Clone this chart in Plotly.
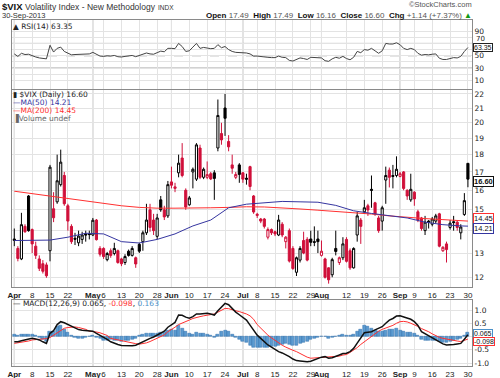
import math
import pandas as pd
import plotly.graph_objects as go

# ---------------- data ----------------
holidays = ["2013-05-27", "2013-07-04", "2013-09-02"]
trading_days = [d.strftime("%Y-%m-%d") for d in pd.bdate_range("2013-04-01", "2013-09-30")
                if d.strftime("%Y-%m-%d") not in holidays]

opens = [13.55, 13.2, 12.75, 14.2, 15.7, 14.05, 13.3, 12.75, 12.55, 12.5,
         13.1, 15.05, 15.4, 16.3, 16.8, 15.2, 14.2, 13.65, 13.45, 13.6,
         13.85, 13.85, 13.8, 14.5, 13.2, 13.2, 12.72, 13.1, 12.98, 13.1,
         12.75, 12.6, 13.08, 12.9, 12.8, 13.38, 13.5, 13.9, 15.0, 14.5,
         13.74, 15.5, 15.0, 14.7, 16.45, 16.1, 16.95, 17.8, 16.0, 15.25,
         17.0, 16.6, 18.4, 16.7, 16.7, 16.9, 16.95, 18.4, 19.3, 21.0,
         18.8, 17.4, 16.7, 17.4, 16.95, 16.65, 17.3, 15.7, 14.72, 14.55,
         14.55, 13.7, 14.05, 13.95, 13.8, 14.3, 13.5, 14.0, 13.2, 12.2,
         12.7, 13.55, 13.6, 13.62, 13.5, 13.62, 12.9, 12.75, 12.38, 12.1,
         13.2, 12.6, 12.8, 13.6, 13.1, 12.38, 13.8, 14.5, 14.9, 15.2,
         16.05, 15.35, 14.6, 14.45, 16.55, 17.1, 16.8, 16.8, 16.75, 17.0,
         16.0, 15.5, 15.9, 14.9, 14.6, 14.0, 14.45, 14.3, 14.45, 14.8,
         13.1, 13.4, 14.15, 14.42, 14.4, 13.9, 14.77, 17.49]
highs = [14.1, 13.3, 14.85, 14.3, 15.75, 14.1, 13.5, 12.9, 12.7, 12.6,
         17.4, 15.9, 18.0, 18.3, 17.0, 15.3, 14.3, 13.9, 14.0, 13.95,
         14.0, 14.0, 14.6, 14.55, 13.3, 13.25, 13.05, 13.2, 13.45, 13.15,
         12.8, 12.95, 13.15, 13.3, 12.85, 13.45, 14.0, 15.3, 15.3, 14.8,
         14.8, 15.7, 15.2, 16.5, 17.3, 16.4, 18.0, 18.7, 16.1, 15.7,
         17.25, 18.7, 18.6, 17.25, 17.6, 17.0, 17.1, 21.6, 20.0, 22.0,
         19.2, 18.0, 17.0, 17.5, 17.0, 16.9, 17.35, 15.75, 14.85, 14.6,
         14.6, 14.15, 14.1, 14.0, 14.75, 14.4, 13.75, 14.1, 13.3, 12.85,
         13.3, 13.95, 13.7, 14.0, 14.2, 14.0, 13.55, 12.8, 12.4, 12.8,
         14.0, 12.85, 13.7, 13.7, 13.2, 13.25, 14.9, 14.6, 15.5, 15.3,
         16.8, 15.4, 14.7, 15.2, 17.3, 17.25, 17.4, 17.9, 17.0, 17.05,
         16.05, 16.9, 15.95, 15.0, 14.65, 14.7, 14.5, 14.65, 14.8, 14.85,
         13.3, 13.5, 14.5, 14.7, 14.45, 14.3, 15.85, 17.49]
lows = [13.3, 12.65, 12.7, 13.9, 13.95, 13.0, 12.75, 12.25, 12.15, 11.98,
        12.65, 14.4, 15.3, 16.2, 15.2, 14.0, 13.4, 13.35, 13.3, 13.4,
        13.5, 13.6, 13.75, 13.55, 12.85, 12.75, 12.65, 12.8, 12.9, 12.55,
        12.45, 12.5, 12.85, 12.85, 12.38, 13.0, 13.1, 13.8, 13.95, 13.8,
        13.6, 14.9, 14.5, 14.6, 16.1, 15.9, 16.7, 16.7, 15.0, 15.2,
        16.1, 16.5, 16.6, 16.6, 16.6, 16.55, 15.5, 18.2, 18.6, 19.15,
        18.2, 16.9, 16.6, 16.4, 16.4, 16.3, 16.0, 14.8, 14.6, 14.35,
        14.1, 13.6, 13.8, 13.75, 13.75, 13.7, 13.2, 12.6, 12.3, 12.05,
        12.6, 12.95, 12.65, 13.3, 13.3, 13.0, 12.85, 11.95, 11.75, 12.0,
        12.9, 12.5, 12.7, 12.6, 12.3, 12.35, 13.5, 13.4, 14.8, 14.7,
        15.1, 14.7, 13.9, 14.0, 15.3, 16.15, 16.1, 16.7, 16.7, 16.0,
        15.5, 15.4, 15.2, 14.4, 14.0, 13.8, 14.1, 14.2, 14.35, 13.25,
        13.05, 12.6, 14.05, 14.0, 14.0, 13.6, 14.7, 16.16]
closes = [13.62, 12.77, 14.28, 13.95, 14.0, 13.4, 12.9, 12.36, 12.24, 12.06,
          17.27, 14.61, 16.51, 17.56, 15.3, 14.45, 13.5, 13.61, 13.75, 13.8,
          13.8, 13.82, 14.49, 13.59, 12.95, 12.85, 12.98, 12.9, 13.2, 12.6,
          12.55, 12.85, 12.9, 13.2, 12.54, 13.08, 13.9, 14.5, 14.15, 14.0,
          14.6, 15.0, 14.65, 16.3, 16.27, 16.18, 17.5, 16.8, 15.14, 15.6,
          17.15, 18.59, 16.7, 17.15, 16.85, 16.61, 16.64, 20.49, 18.9, 20.3,
          18.47, 17.21, 16.86, 16.86, 16.6, 16.6, 16.2, 14.89, 14.78, 14.45,
          14.2, 14.05, 13.9, 13.85, 14.5, 13.8, 13.7, 12.66, 12.35, 12.8,
          13.2, 13.0, 12.7, 13.47, 13.47, 13.5, 13.08, 12.0, 11.9, 12.72,
          13.07, 12.8, 13.4, 12.65, 12.38, 13.2, 14.7, 14.2, 15.1, 14.99,
          16.0, 14.8, 14.0, 15.1, 16.8, 16.7, 16.75, 17.15, 16.9, 16.1,
          15.7, 16.05, 15.55, 14.5, 14.1, 14.4, 14.4, 14.55, 14.7, 13.3,
          13.25, 13.15, 14.35, 14.38, 14.15, 14.17, 15.46, 16.6]

ma_days = [0, 5, 10, 15, 20, 25, 30, 35, 40, 45, 50, 55, 60, 65, 70, 75, 80, 85,
           90, 95, 100, 105, 110, 115, 120, 125, 127]
ma50 = [13.55, 13.55, 13.57, 13.7, 13.88, 13.85, 13.5, 13.44, 13.6, 13.85, 14.22, 14.5,
        15.1, 15.28, 15.36, 15.42, 15.4, 15.38, 15.22, 14.95, 14.82, 14.72, 14.6, 14.4,
        14.28, 14.22, 14.21]
ma200 = [15.95, 15.82, 15.68, 15.55, 15.43, 15.32, 15.2, 15.12, 15.08, 15.08, 15.08,
         15.1, 15.12, 15.15, 15.14, 15.1, 15.04, 14.98, 14.92, 14.86, 14.79, 14.7,
         14.62, 14.57, 14.52, 14.47, 14.45]

rsi = [53, 49, 54, 52, 52.5, 50, 48, 46.5, 46, 45,
       67, 56, 62, 64, 57, 54, 51.5, 52, 52.5, 53,
       53, 53, 55.5, 52, 49.5, 49, 50, 49.5, 50.5, 48.5,
       48, 49, 49.5, 50.5, 48.5, 50.5, 52, 54.5, 53, 52.5,
       55, 57.5, 56.5, 62, 62, 61.5, 70, 65, 57, 58,
       64, 70, 62, 63.5, 62.5, 61.5, 62, 68, 63, 65,
       60, 57, 55.5, 55.5, 54.5, 54.5, 53, 49.5, 49.5, 48.5,
       48, 47.5, 47, 47, 49.5, 47.5, 47, 42.5, 41.5, 44.5,
       46.5, 45.5, 44, 47.5, 47.5, 47.5, 46.5, 42, 41, 45,
       47.5, 46, 49, 45.5, 43.5, 47.5, 57, 55, 60, 59,
       62, 58, 54, 58, 70, 69, 69, 71, 68, 62,
       60, 62, 60, 54, 51, 52, 51.5, 52.5, 53, 46,
       44, 44, 46, 47, 46.5, 49, 57, 63.35]

macd = [-0.2, -0.2, -0.16, -0.13, -0.1, -0.07, -0.09, -0.13, -0.2, -0.26,
        0.12, 0.22, 0.45, 0.56, 0.52, 0.45, 0.37, 0.32, 0.26, 0.24,
        0.22, 0.2, 0.2, 0.12, 0.05, -0.05, -0.11, -0.2, -0.26, -0.3,
        -0.34, -0.35, -0.36, -0.35, -0.33, -0.26, -0.2, -0.12, -0.07, -0.02,
        0.05, 0.12, 0.2, 0.35, 0.45, 0.53, 0.81, 0.8, 0.73, 0.69,
        0.75, 0.85, 0.85, 0.87, 0.88, 0.85, 0.81, 0.97, 1.12, 1.25,
        1.2, 1.05, 0.92, 0.82, 0.72, 0.62, 0.43, 0.25, 0.05, -0.07,
        -0.2, -0.32, -0.4, -0.5, -0.57, -0.62, -0.68, -0.76, -0.85, -0.91,
        -0.92, -0.94, -0.95, -0.93, -0.87, -0.82, -0.78, -0.76, -0.82, -0.8,
        -0.76, -0.7, -0.64, -0.63, -0.57, -0.45, -0.25, -0.05, 0.14, 0.16,
        0.18, 0.25, 0.3, 0.37, 0.5, 0.62, 0.68, 0.77, 0.78, 0.74,
        0.7, 0.65, 0.56, 0.42, 0.18, 0.1, 0.02, -0.05, -0.13, -0.2,
        -0.28, -0.32, -0.32, -0.3, -0.28, -0.26, -0.1, 0.065]
signal = [-0.26, -0.24, -0.22, -0.2, -0.17, -0.13, -0.12, -0.11, -0.1, -0.08,
          -0.04, 0.05, 0.14, 0.24, 0.31, 0.34, 0.36, 0.36, 0.34, 0.31,
          0.27, 0.2, 0.19, 0.17, 0.14, 0.09, 0.04, -0.07, -0.1, -0.14,
          -0.17, -0.19, -0.22, -0.25, -0.27, -0.29, -0.27, -0.24, -0.19, -0.13,
          -0.06, 0.0, 0.06, 0.18, 0.25, 0.35, 0.45, 0.5, 0.56, 0.62,
          0.68, 0.73, 0.75, 0.78, 0.8, 0.81, 0.85, 0.92, 1.0, 1.06,
          1.05, 1.0, 0.97, 0.94, 0.9, 0.85, 0.78, 0.65, 0.45, 0.31,
          0.18, 0.05, -0.05, -0.15, -0.26, -0.33, -0.4, -0.47, -0.52, -0.57,
          -0.64, -0.72, -0.78, -0.82, -0.81, -0.79, -0.77, -0.76, -0.76, -0.76,
          -0.75, -0.74, -0.7, -0.68, -0.6, -0.52, -0.42, -0.3, -0.2, -0.1,
          0.02, 0.12, 0.2, 0.27, 0.32, 0.37, 0.42, 0.5, 0.56, 0.57,
          0.55, 0.5, 0.45, 0.38, 0.3, 0.25, 0.18, 0.1, 0.03, -0.03,
          -0.07, -0.1, -0.13, -0.15, -0.17, -0.19, -0.15, -0.098]
hist = [0.06, 0.05, 0.07, 0.08, 0.08, 0.07, 0.04, -0.02, -0.1, -0.17,
        0.18, 0.2, 0.36, 0.4, 0.28, 0.16, 0.05, -0.04, -0.08, -0.07,
        -0.05, 0.0, 0.02, -0.05, -0.09, -0.14, -0.15, -0.13, -0.16, -0.16,
        -0.17, -0.16, -0.14, -0.1, -0.06, 0.03, 0.08, 0.13, 0.13, 0.12,
        0.12, 0.14, 0.16, 0.22, 0.26, 0.24, 0.4, 0.32, 0.2, 0.1,
        0.09, 0.14, 0.12, 0.1, 0.09, 0.05, -0.03, 0.08, 0.18, 0.24,
        0.2, 0.08, -0.05, -0.12, -0.18, -0.23, -0.35, -0.4, -0.42, -0.42,
        -0.41, -0.4, -0.38, -0.36, -0.33, -0.3, -0.28, -0.29, -0.33, -0.34,
        -0.28, -0.22, -0.17, -0.11, -0.06, -0.03, -0.01, 0.0, -0.06, -0.04,
        -0.01, 0.04, 0.06, 0.05, 0.03, 0.07, 0.18, 0.27, 0.4, 0.36,
        0.3, 0.24, 0.2, 0.18, 0.22, 0.27, 0.28, 0.3, 0.24, 0.18,
        0.15, 0.15, 0.11, 0.04, -0.12, -0.15, -0.16, -0.15, -0.16, -0.18,
        -0.21, -0.22, -0.19, -0.15, -0.11, -0.07, 0.05, 0.163]

tick_dates = ["2013-04-01", "2013-04-08", "2013-04-15", "2013-04-22", "2013-05-01", "2013-05-06",
              "2013-05-13", "2013-05-20", "2013-05-28", "2013-06-03", "2013-06-10", "2013-06-17",
              "2013-06-24", "2013-07-01", "2013-07-08", "2013-07-15", "2013-07-22", "2013-07-29",
              "2013-08-01", "2013-08-12", "2013-08-19", "2013-08-26", "2013-09-03", "2013-09-09",
              "2013-09-16", "2013-09-23", "2013-09-30"]
tick_labels = ["Apr", "8", "15", "22", "May", "6", "13", "20", "28", "Jun", "10", "17", "24",
               "Jul", "8", "15", "22", "29", "Aug", "12", "19", "26", "Sep", "9", "16", "23", "30"]
month_starts = ["2013-04-01", "2013-05-01", "2013-06-03", "2013-07-01", "2013-08-01", "2013-09-03"]

# ---------------- geometry ----------------
W, H = 500, 378
ML, MR, MT, MB = 12, 28, 20, 12
PW, PH = W - ML - MR, H - MT - MB


def px(xp):
    return (xp - ML) / PW


def py(yp):
    return (H - MB - yp) / PH


n = len(trading_days)
xs = list(range(n))
tickvals = [trading_days.index(d) for d in tick_dates]
ticktext = [("<b>%s</b>" % t) if not t.isdigit() else t for t in tick_labels]
month_idx = [trading_days.index(d) for d in month_starts]

RED = "#d0103a"
fig = go.Figure()

# candles split into four StockCharts styles
groups = {"H": [], "r": [], "B": [], "R": []}
for i in range(n):
    prev = closes[i - 1] if i > 0 else opens[i]
    hollow = closes[i] > opens[i]
    black = closes[i] >= prev
    key = ("H" if black else "r") if hollow else ("B" if black else "R")
    groups[key].append(i)
styles = {"H": ("black", "white"), "r": (RED, "white"), "B": ("black", "black"), "R": (RED, RED)}
for key, idx in groups.items():
    lc, fc = styles[key]
    sel = set(idx)
    fig.add_trace(go.Candlestick(
        x=xs,
        open=[opens[i] if i in sel else None for i in xs],
        high=[highs[i] if i in sel else None for i in xs],
        low=[lows[i] if i in sel else None for i in xs],
        close=[closes[i] if i in sel else None for i in xs],
        increasing=dict(line=dict(color=lc, width=1), fillcolor=fc),
        decreasing=dict(line=dict(color=lc, width=1), fillcolor=fc),
        whiskerwidth=0, xaxis="x2", yaxis="y2", showlegend=False, hoverinfo="skip"))

fig.add_trace(go.Scatter(x=ma_days, y=ma200, mode="lines", line=dict(color="#ff3030", width=1),
                         xaxis="x2", yaxis="y2", showlegend=False, hoverinfo="skip"))
fig.add_trace(go.Scatter(x=ma_days, y=ma50, mode="lines", line=dict(color="#3535a0", width=1),
                         xaxis="x2", yaxis="y2", showlegend=False, hoverinfo="skip"))

fig.add_trace(go.Scatter(x=xs, y=rsi, mode="lines", line=dict(color="#444444", width=1),
                         xaxis="x", yaxis="y", showlegend=False, hoverinfo="skip"))

fig.add_trace(go.Bar(x=xs, y=hist, marker=dict(color="#5b9bd0", line=dict(color="#2a6aa8", width=0.5)),
                     width=0.85, xaxis="x3", yaxis="y3", showlegend=False, hoverinfo="skip"))
fig.add_trace(go.Scatter(x=xs, y=signal, mode="lines", line=dict(color="#ff3030", width=1),
                         xaxis="x3", yaxis="y3", showlegend=False, hoverinfo="skip"))
fig.add_trace(go.Scatter(x=xs, y=macd, mode="lines", line=dict(color="#111111", width=1.5),
                         xaxis="x3", yaxis="y3", showlegend=False, hoverinfo="skip"))

xr = [-0.64, 128.14]
grid = "#e3e3e3"
ytickfont = dict(family="DejaVu Sans", size=7.5, color="#222")
xtickfont = dict(family="Liberation Sans", size=8, color="#222")
xcommon = dict(range=xr, tickvals=tickvals, ticktext=ticktext, gridcolor=grid, gridwidth=1,
               showline=True, mirror=True, linecolor="#8a8a8a", linewidth=1, zeroline=False,
               ticks="", tickfont=xtickfont, tickangle=0, automargin=False, fixedrange=True)
ycommon = dict(side="right", gridcolor=grid, gridwidth=1, showline=True, mirror=True,
               linecolor="#8a8a8a", linewidth=1, zeroline=False, ticks="", tickfont=ytickfont,
               automargin=False, fixedrange=True)

fig.update_layout(
    width=W, height=H, margin=dict(l=ML, r=MR, t=MT, b=MB, autoexpand=False),
    paper_bgcolor="white", plot_bgcolor="white", boxgap=0.15, bargap=0,
    xaxis=dict(xcommon, anchor="y", showticklabels=False),
    xaxis2=dict(xcommon, anchor="y2", showticklabels=True, rangeslider=dict(visible=False)),
    xaxis3=dict(xcommon, anchor="y3", showticklabels=True),
    yaxis=dict(ycommon, anchor="x", domain=[py(89), 1.0], range=[-3.8, 107.9],
               tickvals=[10, 20, 30, 40, 50, 60, 70, 80, 90],
               ticktext=["10", "", "30", "", "50", "", "", "", "90"]),
    yaxis2=dict(ycommon, anchor="x2", domain=[py(287), py(90)], type="log",
                range=[math.log10(11.62), math.log10(22.29)],
                tickvals=list(range(12, 23)),
                ticktext=[("" if v == 14 else str(v)) for v in range(12, 23)]),
    yaxis3=dict(ycommon, anchor="x3", domain=[0.0, py(299.5)], range=[-1.113, 1.396],
                tickvals=[-1, -0.5, 0, 0.5, 1], ticktext=["-1.0", "-0.5", "", "0.5", "1.0"]),
)

shapes = []
for ax in ["", "2", "3"]:
    for m in month_idx:
        shapes.append(dict(type="line", xref="x" + ax, yref="y" + ax + " domain", x0=m, x1=m,
                           y0=0, y1=1, line=dict(color="#b4b4b4", width=1), layer="below"))
for lvl in (70, 30):
    shapes.append(dict(type="line", xref="x domain", yref="y", x0=0, x1=1, y0=lvl, y1=lvl,
                       line=dict(color="#8c8c8c", width=1), layer="below"))
shapes.append(dict(type="line", xref="x domain", yref="y", x0=0, x1=1, y0=50, y1=50,
                   line=dict(color="#9a9a9a", width=1, dash="dash"), layer="below"))
fig.update_layout(shapes=shapes)

F = "DejaVu Sans"
A = "Liberation Sans"


def ann(text, xp, yp, size=8, color="#222", family=F, xanchor="left", **kw):
    d = dict(text=text, x=px(xp), y=py(yp), xref="paper", yref="paper", xanchor=xanchor,
             yanchor="middle", showarrow=False, font=dict(family=family, size=size, color=color),
             borderpad=0)
    d.update(kw)
    return d


anns = [
    ann("<b>$VIX</b>", 1, 7, size=9.5, color="#111", family=A),
    ann("Volatility Index - New Methodology", 24, 7.5, size=8.5, color="#333", family=A),
    ann("INDX", 157, 8, size=6.5, color="#333", family=A),
    ann("30-Sep-2013", 1, 15.5, size=7.5, color="#333", family=A),
    ann("\u00a9StockCharts.com", 473, 5, size=7.5, color="#555", family=A, xanchor="right"),
    ann("<b>Open</b> <span style='color:#555'>17.49</span>  <b>High</b> <span style='color:#555'>17.49</span>  "
        "<b>Low</b> <span style='color:#555'>16.16</span>  <b>Close</b> <span style='color:#555'>16.60</span>  "
        "<b>Chg</b> <span style='color:#555'>+1.14 (+7.37%)</span> <span style='color:#119911'>\u25b2</span>",
        473, 16, size=8, color="#111", family=A, xanchor="right"),
    ann("\u25b2 RSI(14) 63.35", 12, 26, size=7.5, color="#222"),
    ann("70", 475, 39, size=7, color="#222"),
    ann("\u25ae $VIX (Daily) 16.60", 12, 95, size=7.5, color="#222"),
    ann("\u2014MA(50) 14.21", 12, 103, size=7.5, color="#3535a0"),
    ann("\u2014MA(200) 14.45", 12, 110.5, size=7.5, color="#ff3030"),
    ann("\u2590Volume undef", 12, 118, size=7.5, color="#666"),
    ann("\u2014 MACD(12,26,9) 0.065, <span style='color:#ff3030'>-0.098</span>, "
        "<span style='color:#4a90c8'>0.163</span>", 12, 303, size=7.5, color="#222"),
]


def box(text, yval, yref, color, bold=False, size=7.5):
    return dict(text=("<b>%s</b>" % text) if bold else text, x=px(473), y=yval, xref="paper",
                yref=yref, xanchor="left", yanchor="middle", showarrow=False,
                font=dict(family=A, size=size, color="#111"), bgcolor="white",
                bordercolor=color, borderwidth=1, borderpad=0)


anns += [
    box("63.35", 63.35, "y", "#222", size=7),
    box("16.60", math.log10(16.47), "y2", "#111", bold=True, size=7.5),
    box("14.45", math.log10(14.45) + 0.003, "y2", "#ff3030"),
    box("14.21", math.log10(14.21) - 0.004, "y2", "#3535a0"),
    box("0.065", 0.12, "y3", "#4a90c8", size=7),
    box("-0.098", -0.18, "y3", "#ff3030", size=7),
]
fig.update_layout(annotations=anns)

fig.write_html("out.html", config={"displayModeBar": False},
               post_script="document.body.style.margin='0';document.body.style.overflow='hidden';")
